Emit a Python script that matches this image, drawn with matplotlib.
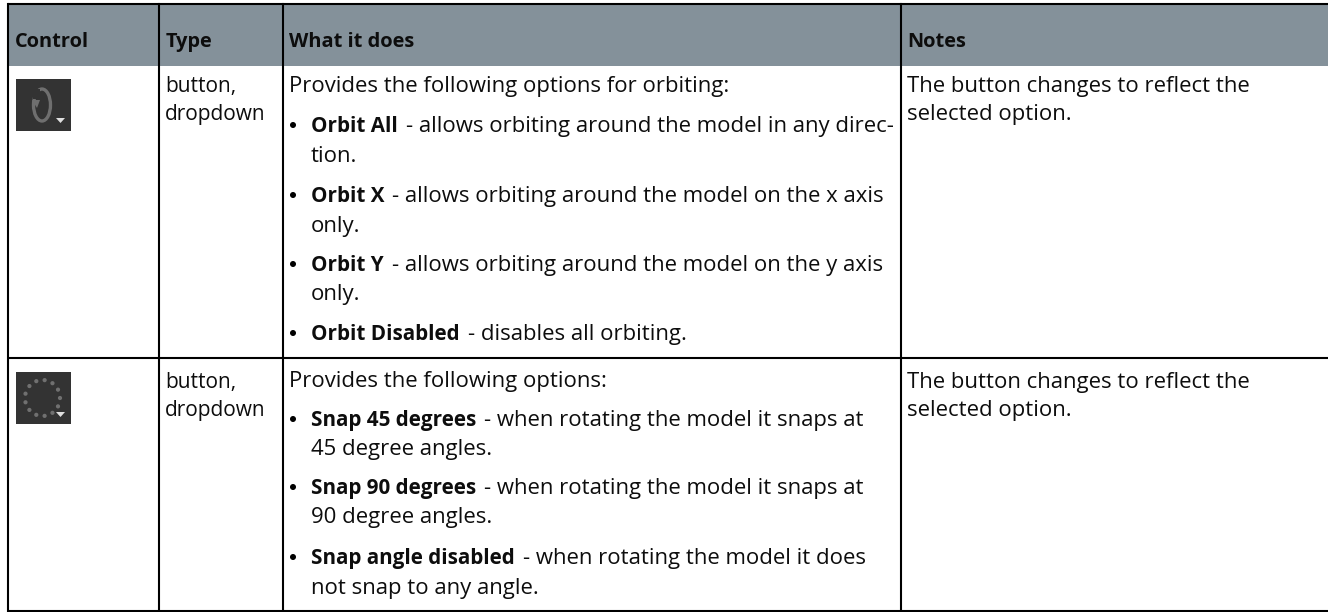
import matplotlib
matplotlib.use('Agg')
import numpy as np
import matplotlib.pyplot as plt
from matplotlib.patches import Rectangle, Circle, Polygon, Ellipse

plt.rcParams['font.family'] = ['Open Sans', 'DejaVu Sans']

headers = ['Control', 'Type', 'What it does', 'Notes']
type_lines = ['button,', 'dropdown']
notes_lines = ['The button changes to reflect the', 'selected option.']

# (bold part, normal part)
row1_lines = [
    ('', 'Provides the following options for orbiting:'),
    ('Orbit All', '- allows orbiting around the model in any direc-'),
    ('', 'tion.'),
    ('Orbit X', '- allows orbiting around the model on the x axis'),
    ('', 'only.'),
    ('Orbit Y', '- allows orbiting around the model on the y axis'),
    ('', 'only.'),
    ('Orbit Disabled', '- disables all orbiting.'),
]
row2_lines = [
    ('', 'Provides the following options:'),
    ('Snap 45 degrees', '- when rotating the model it snaps at'),
    ('', '45 degree angles.'),
    ('Snap 90 degrees', '- when rotating the model it snaps at'),
    ('', '90 degree angles.'),
    ('Snap angle disabled', '- when rotating the model it does'),
    ('', 'not snap to any angle.'),
]
row1_y = [92, 132, 162, 202, 232, 271, 300, 340]
row2_y = [387, 426, 455, 494, 523, 564, 594]

col_x = [7.5, 159, 283, 900.5]
top, head_bottom, row_div, bottom = 4, 66, 358, 610.5
FS = 15.9
FS_BOLD = 14.9
LW = 1.5
INK = '#0d0d0d'

fig = plt.figure(figsize=(13.28, 6.12), dpi=100)
ax = fig.add_axes([0, 0, 1, 1])
ax.set_xlim(0, 1328)
ax.set_ylim(612, 0)
ax.axis('off')

ax.add_patch(Rectangle((col_x[0], top), 1328 - col_x[0], head_bottom - top, fc='#84919a', ec='none'))

for x in col_x:
    ax.plot([x, x], [top, bottom], color='black', lw=LW, solid_capstyle='projecting')
for y in [top, row_div, bottom]:
    ax.plot([col_x[0], 1328], [y, y], color='black', lw=LW, solid_capstyle='butt')

for h, x in zip(headers, [15, 166, 289, 907]):
    ax.text(x, 47, h, fontsize=14.4, fontweight='bold', va='baseline', color=INK)


def draw_lines(lines, ys, x0):
    rend = fig.canvas.get_renderer()
    for i, ((bold, normal), y) in enumerate(zip(lines, ys)):
        x = x0
        if bold:
            ax.add_patch(Circle((x0 + 4, y - 7), 3, fc='black', ec='none'))
            x = x0 + 22
            t = ax.text(x, y, bold, fontsize=FS_BOLD, fontweight='bold', va='baseline', color=INK)
            x = ax.transData.inverted().transform((t.get_window_extent(rend).x1, 0))[0] + 8
        elif i > 0:
            x = x0 + 22
        ax.text(x, y, normal, fontsize=FS, va='baseline', color=INK)


draw_lines(row1_lines, row1_y, 289)
draw_lines(row2_lines, row2_y, 289)

for y1, y2 in [(92, 120), (388, 416)]:
    ax.text(165, y1, type_lines[0], fontsize=15, va='baseline', color=INK)
    ax.text(165, y2, type_lines[1], fontsize=15, va='baseline', color=INK)
    ax.text(907, y1, notes_lines[0], fontsize=FS, va='baseline', color=INK)
    ax.text(907, y2, notes_lines[1], fontsize=FS, va='baseline', color=INK)

# icon 1: orbit button
ax.add_patch(Rectangle((16, 79), 55, 52, fc='#333333', ec='none'))
ax.add_patch(Ellipse((42, 105), 17, 32, fc='none', ec='#6f6f6f', lw=2.4))
ax.add_patch(Rectangle((33, 89), 7, 10, fc='#333333', ec='none'))
ax.add_patch(Polygon([[32, 100], [40, 100], [37, 108]], fc='#6f6f6f', ec='none'))
ax.add_patch(Polygon([[56, 118], [65, 118], [60.5, 123]], fc='#e0e0e0', ec='none'))

# icon 2: snap button
ax.add_patch(Rectangle((16, 372), 55, 52, fc='#333333', ec='none'))
for a in np.radians(np.arange(0, 360, 27.7)):
    ax.add_patch(Circle((42.5 + 17.5 * np.cos(a), 398 + 18 * np.sin(a)), 2.1, fc='#707070', ec='none'))
ax.add_patch(Polygon([[56, 412], [65, 412], [60.5, 417]], fc='#e0e0e0', ec='none'))

fig.savefig('out.png', dpi=100)
